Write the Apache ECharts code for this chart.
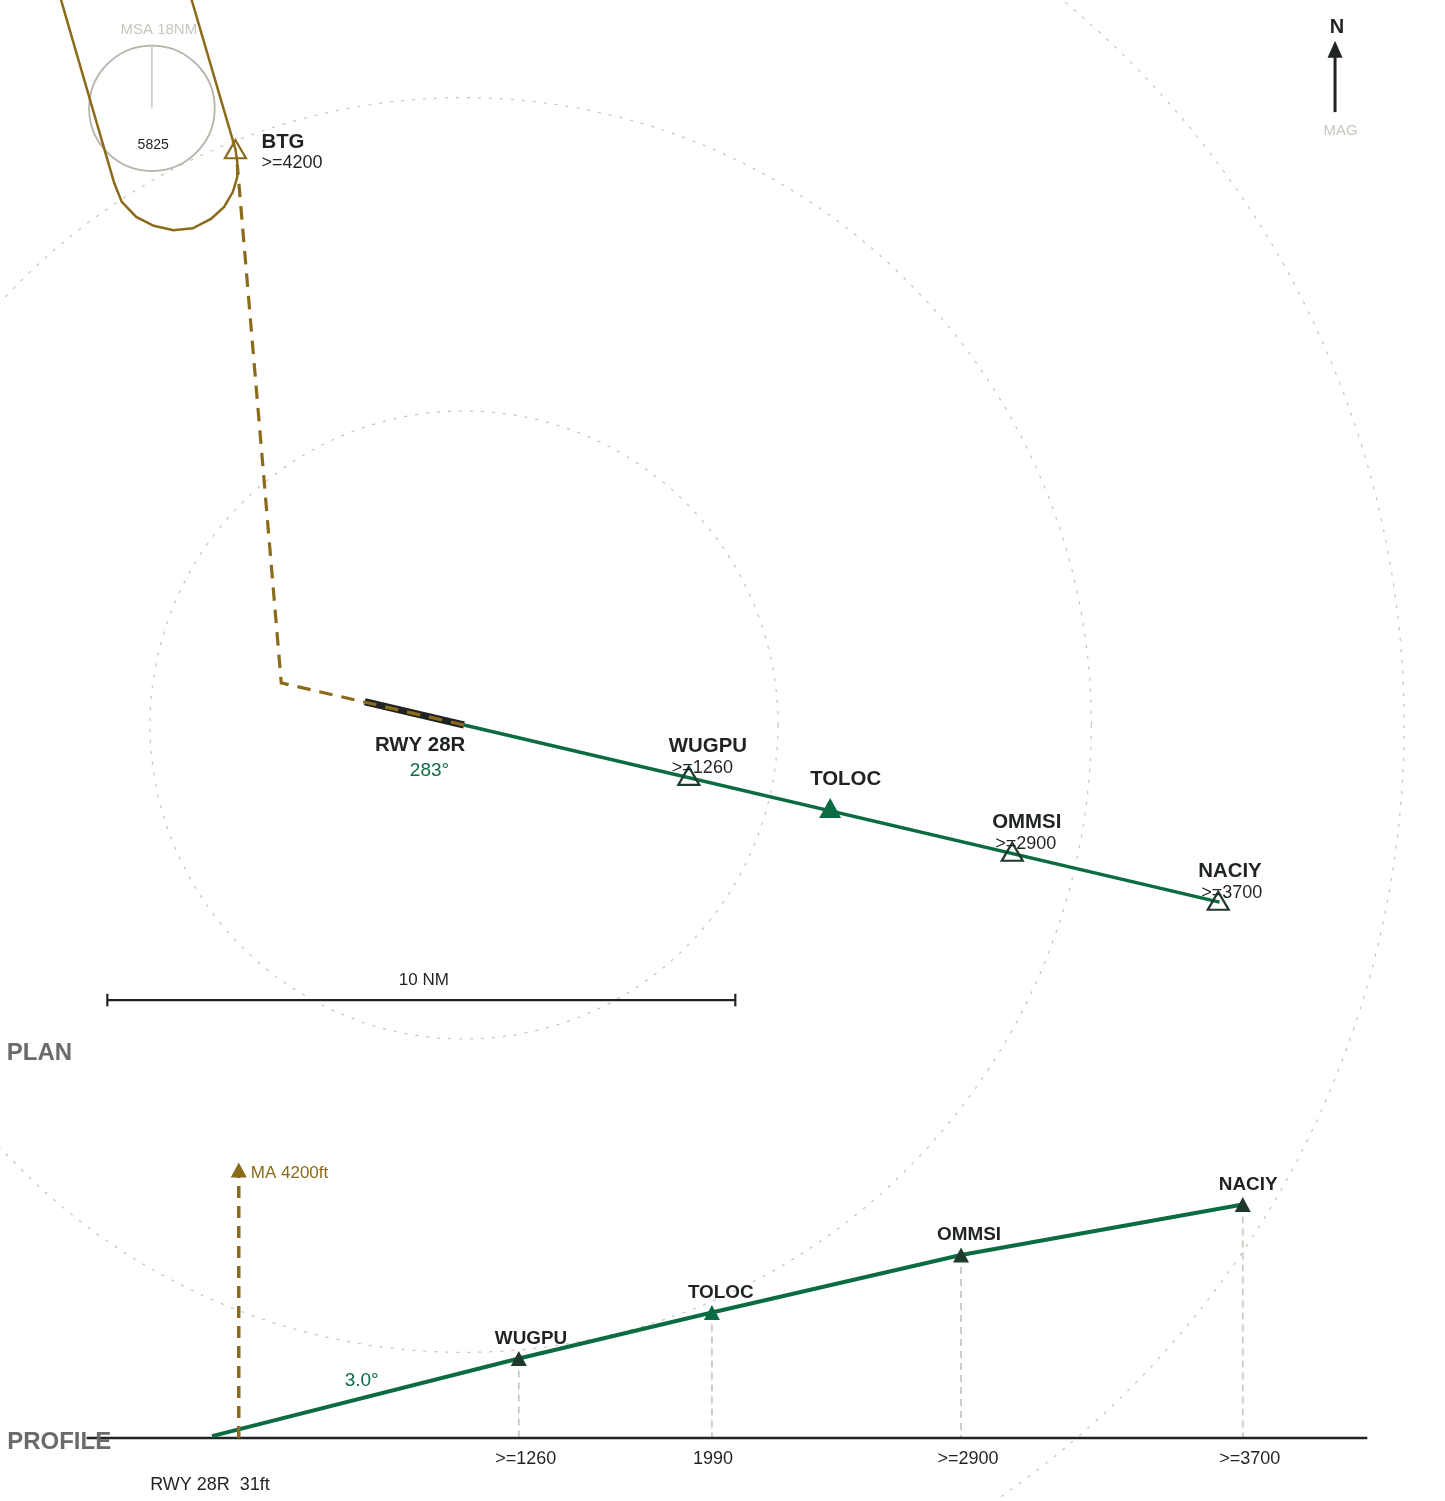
<!DOCTYPE html>
<html>
<head>
<meta charset="utf-8">
<style>html,body{margin:0;padding:0;background:#fff}#chart{width:1445px;height:1501px}</style>
<script src="https://cdn.jsdelivr.net/npm/echarts@6/dist/echarts.min.js"></script>
</head>
<body>
<div id="chart"></div>
<script>
// PLAN data, nautical miles east / north of the runway 28R threshold
const fixNames = ['WUGPU', 'TOLOC', 'OMMSI', 'NACIY'];
const planFixE = [3.58, 5.83, 8.73, 12.01];
const planFixN = [-0.81, -1.32, -2.02, -2.80];
const planAltLabels = ['>=1260', '', '>=2900', '>=3700'];
const btgFix = [-3.64, 9.17];
const ringRadii = [5, 9.99, 14.97];
const msaCentre = [-4.97, 9.82];
const msaRadius = 1.0;
const finalTrack = [[0, 0], [12.03, -2.82]];
const runway = [[-1.58, 0.37], [0, 0]];
const missedTrack = [[0, 0], [-2.91, 0.67], [-3.61, 8.92]];
const holdTrack = [[-6.43, 11.59], [-5.57, 8.63], [-5.45, 8.33], [-5.22, 8.09], [-4.94, 7.95], [-4.63, 7.88], [-4.32, 7.91], [-4.03, 8.06], [-3.82, 8.25], [-3.68, 8.49], [-3.61, 8.73], [-3.61, 8.96], [-3.64, 9.17], [-4.35, 11.59]];
const scaleBarNM = [-5.68, 4.32];
const scaleBarN = -4.38;
const northArrow = [[13.87, 9.76], [13.87, 10.8]];
const northHead = [13.87, 10.76];

// PROFILE data, nautical miles from threshold / feet
const profileDist = [3.67, 5.98, 8.96, 12.33];
const profileAlt = [1260, 1990, 2900, 3700];
const profileAltLabels = ['>=1260', '', '>=2900', '>=3700'];
const tocAltLabel = '1990';
const thresholdAlt = 31;
const groundLine = [[-1.5, 0], [13.82, 0]];
const missedDist = 0.32;
const missedAlt = 4200;

const FONT = '"Liberation Sans", Arial, sans-serif';
const GREEN = '#0b6b43', BROWN = '#8b6b1a', DARK = '#1f2321', FIXDARK = '#1f3a2c';
const GREY = '#c6c3ba', DROP = '#ccc9c0', LIGHT = '#c9c6bd', HEAD = '#6b6b6b';

function line(grid, data, color, width, dash, z) {
  return {type: 'line', xAxisIndex: grid, yAxisIndex: grid, data, showSymbol: false, symbol: 'none',
    silent: true, animation: false, z: z || 3,
    lineStyle: {color, width, type: dash || 'solid', cap: 'butt', join: 'miter', opacity: 1}};
}
function marks(grid, data, size, color, outline, offset) {
  return {type: 'scatter', xAxisIndex: grid, yAxisIndex: grid, data, symbol: 'triangle', symbolSize: size,
    symbolOffset: offset || [0, 0], silent: true, animation: false, z: 5,
    itemStyle: outline ? {color: 'rgba(0,0,0,0)', borderColor: color, borderWidth: 2.2, opacity: 1} : {color, opacity: 1}};
}
function texts(grid, items, size, color, bold, align, offset) {
  return {type: 'scatter', xAxisIndex: grid, yAxisIndex: grid, symbol: 'circle', symbolSize: 1, silent: true, animation: false, z: 6,
    itemStyle: {color: 'rgba(0,0,0,0)', opacity: 1},
    data: items.map(t => ({value: [t[0], t[1]], name: t[2]})),
    label: {show: true, position: 'inside', formatter: '{b}', fontFamily: FONT, fontSize: size, color, opacity: 1,
      fontWeight: bold ? 'bold' : 'normal', align: align || 'center', verticalAlign: 'middle', offset: offset || [0, 0]}};
}
function circles(data, color, width, dash) {
  return {type: 'custom', xAxisIndex: 0, yAxisIndex: 0, silent: true, animation: false, z: 1, data,
    encode: {x: 0, y: 1},
    renderItem(params, api) {
      const c = api.coord([api.value(0), api.value(1)]);
      const r = api.size([api.value(2), 0])[0];
      return {type: 'circle', shape: {cx: c[0], cy: c[1], r},
        style: {fill: 'none', stroke: color, lineWidth: width, lineDash: dash || null}};
    }};
}

const planPts = fixNames.map((n, i) => [planFixE[i], planFixN[i]]);
const profPts = fixNames.map((n, i) => [profileDist[i], profileAlt[i]]);

const series = [
  circles(ringRadii.map(r => [0, 0, r]), GREY, 1.2, [3, 8]),
  circles([[msaCentre[0], msaCentre[1], msaRadius]], '#b5b2a8', 1.8),
  line(0, [msaCentre, [msaCentre[0], msaCentre[1] + msaRadius]], LIGHT, 1.5),
  line(0, finalTrack, GREEN, 3.5),
  line(0, runway, DARK, 7),
  line(0, holdTrack, BROWN, 2.5),
  line(0, missedTrack, BROWN, 3.2, [13.5, 9]),
  line(0, [[scaleBarNM[0], scaleBarN], [scaleBarNM[1], scaleBarN]], DARK, 2.2),
  line(0, [[scaleBarNM[0], scaleBarN - 0.1], [scaleBarNM[0], scaleBarN + 0.1]], DARK, 2.2),
  line(0, [[scaleBarNM[1], scaleBarN - 0.1], [scaleBarNM[1], scaleBarN + 0.1]], DARK, 2.2),
  line(0, northArrow, DARK, 3),
  marks(0, [northHead], [15, 17], DARK),
  marks(0, [btgFix], [21, 18], BROWN, true),
  marks(0, [planPts[0], planPts[2], planPts[3]], [21, 18], FIXDARK, true),
  marks(0, [planPts[1]], [22, 20], GREEN),
  texts(0, planPts.map((p, i) => [p[0], p[1], fixNames[i]]), 20.4, DARK, true, 'left', [-20, -29]),
  texts(0, planPts.map((p, i) => [p[0], p[1], planAltLabels[i]]), 18, DARK, false, 'left', [-17, -8]),
  texts(0, [[btgFix[0], btgFix[1], 'BTG']], 20.4, DARK, true, 'left', [26, -7]),
  texts(0, [[btgFix[0], btgFix[1], '>=4200']], 18, DARK, false, 'left', [26, 14]),
  texts(0, [[-0.70, -0.32, 'RWY 28R']], 20.4, DARK, true),
  texts(0, [[-0.55, -0.73, '283°']], 19, GREEN),
  texts(0, [[-0.64, -4.07, '10 NM']], 17, DARK),
  texts(0, [[-7.28, -5.23, 'PLAN']], 24, HEAD, true, 'left'),
  texts(0, [[-4.86, 11.07, 'MSA 18NM']], 15, LIGHT),
  texts(0, [[msaCentre[0] + 0.02, msaCentre[1] - 0.59, '5825']], 14, DARK),
  texts(0, [[13.90, 11.10, 'N']], 20, DARK, true),
  texts(0, [[13.96, 9.46, 'MAG']], 15, LIGHT),

  line(1, groundLine, DARK, 2.5),
  ...profPts.map(p => line(1, [p, [p[0], 0]], DROP, 1.8, [7, 5], 2)),
  line(1, [[0, thresholdAlt]].concat(profPts), GREEN, 4),
  line(1, [[missedDist, 0], [missedDist, missedAlt]], BROWN, 3.5, [12, 8]),
  marks(1, [[missedDist, missedAlt]], [16, 15], BROWN, false, [0, -3]),
  marks(1, [profPts[0], profPts[2], profPts[3]], [16, 15], FIXDARK),
  marks(1, [profPts[1]], [16, 15], GREEN),
  texts(1, profPts.map((p, i) => [p[0], p[1], fixNames[i]]), 18.9, DARK, true, 'left', [-24, -20]),
  texts(1, profPts.map((p, i) => [p[0], 0, profileAltLabels[i]]), 18, DARK, false, 'center', [7, 21]),
  texts(1, [[profPts[1][0], 0, tocAltLabel]], 18, DARK, false, 'center', [1, 21]),
  texts(1, [[missedDist, missedAlt, 'MA 4200ft']], 17, BROWN, false, 'left', [12, 0]),
  texts(1, [[1.79, 915, '3.0°']], 19, GREEN),
  texts(1, [[-2.45, -64, 'PROFILE']], 24, HEAD, true, 'left'),
  texts(1, [[-0.74, -746, 'RWY 28R  31ft']], 18, DARK, false, 'left')
];

const hidden = {show: false, type: 'value', splitLine: {show: false}, scale: false};
const chart = echarts.init(document.getElementById('chart'), null, {renderer: 'canvas'});
chart.setOption({
  backgroundColor: '#ffffff',
  animation: false,
  grid: [
    {left: 0, top: 0, width: 1445, height: 1501},
    {left: 0, top: 0, width: 1445, height: 1501}
  ],
  xAxis: [
    {...hidden, gridIndex: 0, min: -7.389, max: 15.621},
    {...hidden, gridIndex: 1, min: -2.536, max: 14.749}
  ],
  yAxis: [
    {...hidden, gridIndex: 0, min: -12.357, max: 11.545},
    {...hidden, gridIndex: 1, min: -998, max: 22789}
  ],
  series
});
</script>
</body>
</html>
